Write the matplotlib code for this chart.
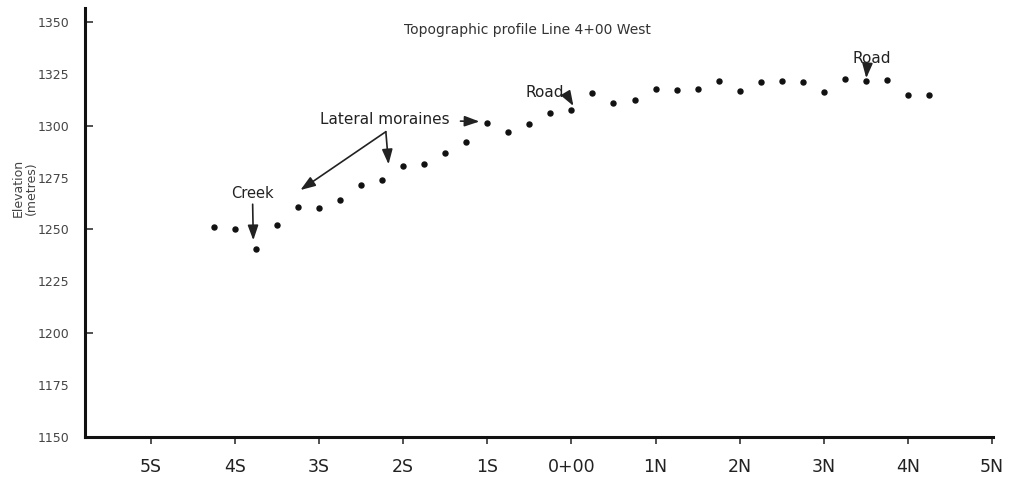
import matplotlib
matplotlib.use("Agg")
import matplotlib.pyplot as plt

# stations along the line (metres, S negative / N positive) and elevations
stations = [-425, -400, -375, -350, -325, -300, -275, -250, -225, -200, -175, -150,
            -125, -100, -75, -50, -25, 0, 25, 50, 75, 100, 125, 150, 175, 200,
            225, 250, 275, 300, 325, 350, 375, 400, 425]
elevation = [1251.0, 1250.3, 1240.6, 1252.0, 1261.0, 1260.5, 1264.1, 1271.3, 1273.7,
             1280.6, 1281.4, 1287.0, 1292.0, 1301.1, 1297.0, 1300.8, 1306.0, 1307.5,
             1315.9, 1310.8, 1312.4, 1317.5, 1317.3, 1317.8, 1321.3, 1316.7, 1321.1,
             1321.3, 1321.1, 1316.3, 1322.7, 1321.6, 1321.8, 1314.8, 1314.8]

x_ticks = [-500, -400, -300, -200, -100, 0, 100, 200, 300, 400, 500]
x_labels = ["5S", "4S", "3S", "2S", "1S", "0+00", "1N", "2N", "3N", "4N", "5N"]
y_labels = [1150, 1175, 1200, 1225, 1250, 1275, 1300, 1325, 1350]
y_marks = [1200, 1250, 1300, 1350]

fig = plt.figure(figsize=(10.12, 4.84), dpi=100)
ax = fig.add_axes([85 / 1012, 47 / 484, 908 / 1012, 429 / 484])

ax.plot(stations, elevation, "o", color="#111111", markersize=3.6, linestyle="none")

ax.set_xlim(-578, 501)
ax.set_ylim(1152.4, 1356.7)

for side in ["top", "right"]:
    ax.spines[side].set_visible(False)
for side in ["left", "bottom"]:
    ax.spines[side].set_linewidth(2.2)
    ax.spines[side].set_color("#111111")

ax.set_xticks(x_ticks)
ax.set_xticklabels(x_labels, fontsize=12.5, color="#222222")
ax.tick_params(axis="x", direction="out", length=5, width=1.1, pad=10, color="#222222")

ax.yaxis.remove_overlapping_locs = False
ax.set_yticks(y_labels)
ax.set_yticklabels([str(v) for v in y_labels], fontsize=9, color="#444444")
ax.tick_params(axis="y", which="major", length=0, pad=11)
ax.set_yticks(y_marks, minor=True)
ax.tick_params(axis="y", which="minor", direction="in", length=6, width=1.1, color="#222222")

fig.text(25 / 1012, 1 - 188 / 484, "Elevation\n(metres)", rotation=90,
         ha="center", va="center", fontsize=9, color="#444444", linespacing=1.0)

ax.text(-52, 1346.2, "Topographic profile Line 4+00 West", ha="center", va="center",
        fontsize=10, color="#333333")

arrow = dict(arrowstyle="-|>,head_length=0.45,head_width=0.16", mutation_scale=20,
             color="#222222", lw=1.2, shrinkA=0, shrinkB=0)

ax.annotate("Creek", xy=(-378, 1244.8), xytext=(-379, 1267.1), ha="center", va="center",
            fontsize=10.5, color="#222222", arrowprops=arrow)

ax.text(-222, 1302.9, "Lateral moraines", ha="center", va="center", fontsize=11,
        color="#222222")
ax.annotate("", xy=(-322, 1269.0), xytext=(-220.5, 1297.1), arrowprops=arrow)
ax.annotate("", xy=(-217.3, 1281.4), xytext=(-220.5, 1297.1), arrowprops=arrow)
ax.annotate("", xy=(-109.3, 1302.0), xytext=(-131.8, 1302.2), arrowprops=arrow)

ax.text(-32, 1316.2, "Road", ha="center", va="center", fontsize=11, color="#222222")
ax.annotate("", xy=(2.4, 1309.5), xytext=(-5.9, 1315.2), arrowprops=arrow)

ax.text(357.5, 1332.4, "Road", ha="center", va="center", fontsize=11, color="#222222")
ax.annotate("", xy=(350.4, 1322.9), xytext=(351.5, 1328.6), arrowprops=arrow)

fig.savefig("out.png", dpi=100, facecolor="white")
